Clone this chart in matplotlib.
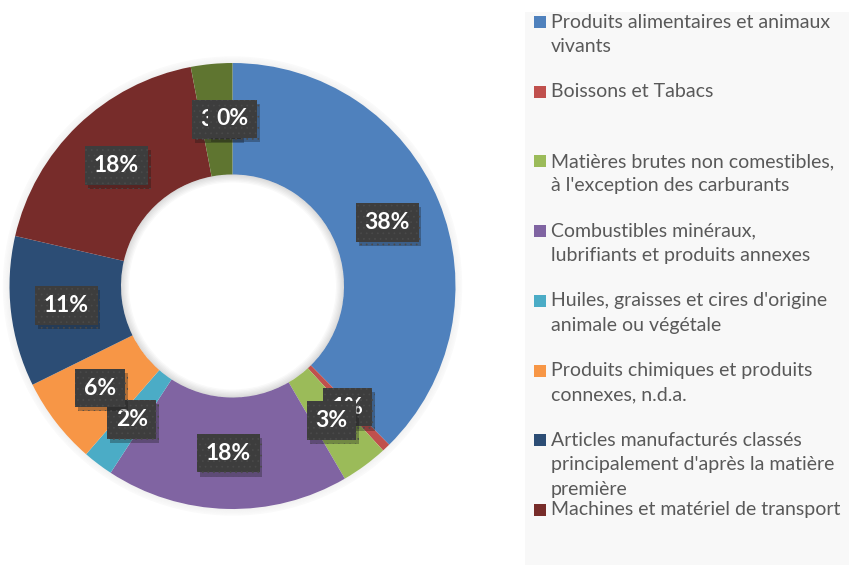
import matplotlib.pyplot as plt
import matplotlib.patheffects as pe
from matplotlib.patches import Rectangle, Wedge
import numpy as np

# Parts des importations par catégorie (en %)
categories = [
    "Produits alimentaires et animaux\nvivants",
    "Boissons et Tabacs",
    "Matières brutes non comestibles,\nà l'exception des carburants",
    "Combustibles minéraux,\nlubrifiants et produits annexes",
    "Huiles, graisses et cires d'origine\nanimale ou végétale",
    "Produits chimiques et produits\nconnexes, n.d.a.",
    "Articles manufacturés classés\nprincipalement d'après la matière\npremière",
    "Machines et matériel de transport",
    "Articles manufacturés divers",
    "Articles et transactions non classés ailleurs",
]
valeurs = [37.6, 0.6, 3.4, 17.6, 2.2, 6.3, 10.9, 18.4, 3.0, 0.0]
couleurs = ['#4F81BD', '#C0504D', '#9BBB59', '#8064A2', '#4BACC6',
            '#F79646', '#2C4D75', '#772C2A', '#5F7530', '#4D3B62']
nb_legende = 8  # la légende n'affiche que les 8 premières entrées

W, H = 849, 565
fig = plt.figure(figsize=(W / 100, H / 100), dpi=100)
fig.patch.set_facecolor('white')

# Fond de la légende
fig.patches.append(Rectangle((525 / W, 0), (W - 525) / W, (H - 12) / H,
                             transform=fig.transFigure, facecolor='#f8f8f8',
                             edgecolor='none', zorder=0))

# Axe du donut
cx, cy, r = 232.5, 286, 223
ax = fig.add_axes([(cx - r) / W, (H - cy - r) / H, 2 * r / W, 2 * r / H])

wedges, _ = ax.pie(valeurs, colors=couleurs, startangle=90, counterclock=False,
                   radius=1, wedgeprops=dict(width=0.5, edgecolor='none'))
ax.set_xlim(-1, 1)
ax.set_ylim(-1, 1)
ax.set_aspect('equal')
ax.axis('off')

# Ombres légères autour de l'anneau et dans le trou
for k in range(5):
    ax.add_patch(Wedge((0, 0), 1.0 + 0.006 * (k + 1), 0, 360, width=0.006,
                       facecolor='black', alpha=0.05 - 0.008 * k, edgecolor='none',
                       clip_on=False))
for k in range(6):
    ax.add_patch(Wedge((0, 0), 0.5, 0, 360, width=0.006 * (k + 1),
                       facecolor='black', alpha=0.025, edgecolor='none', zorder=3))

# Étiquettes de données
plt.rcParams['hatch.linewidth'] = 0.5
for i, (w, v) in enumerate(zip(wedges, valeurs)):
    ang = np.deg2rad((w.theta1 + w.theta2) / 2)
    x, y = 0.75 * np.cos(ang), 0.75 * np.sin(ang)
    t = ax.text(x, y, f"{v:.0f}%", ha='center', va='center', fontsize=16.5,
                fontweight='bold', family='Lato', color='white',
                bbox=dict(boxstyle='square,pad=0.38', facecolor='#3d3d3d',
                          edgecolor='#4a4a4a', linewidth=0, hatch='...'),
                zorder=10 + i)
    t.get_bbox_patch().set_path_effects(
        [pe.SimplePatchShadow(offset=(2, -3), alpha=0.3), pe.Normal()])

# Légende
y0, pas_item, pas_ligne = 22, 69.7, 24.5
for i in range(nb_legende):
    yi = y0 + i * pas_item
    fig.patches.append(Rectangle((534 / W, 1 - (yi + 6) / H), 12 / W, 12 / H,
                                 transform=fig.transFigure,
                                 facecolor=couleurs[i], edgecolor='none'))
    for k, ligne in enumerate(categories[i].split('\n')):
        fig.text(551 / W, 1 - (yi + k * pas_ligne) / H, ligne, ha='left',
                 va='center', fontsize=14, family='Lato', color='#595959')

fig.savefig('out.png', dpi=100)
